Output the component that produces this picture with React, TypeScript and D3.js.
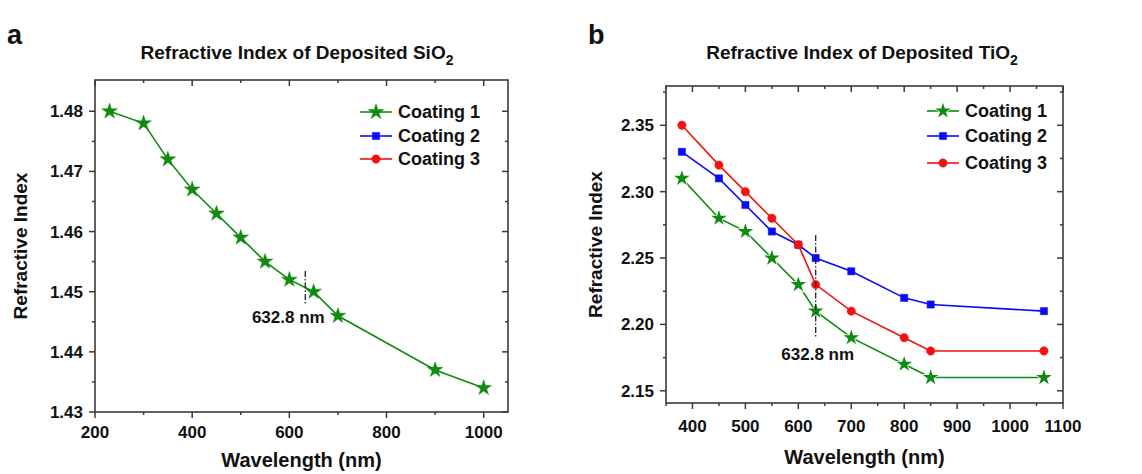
import React from "react";
import * as d3 from "d3";

// ---------- Data ----------
const sio2Wavelengths = [230, 300, 350, 400, 450, 500, 550, 600, 650, 700, 900, 1000];
const sio2Coating1 = [1.48, 1.478, 1.472, 1.467, 1.463, 1.459, 1.455, 1.452, 1.45, 1.446, 1.437, 1.434];

const tio2Wavelengths = [380, 450, 500, 550, 600, 632.8, 700, 800, 850, 1064];
const tio2Coating1 = [2.31, 2.28, 2.27, 2.25, 2.23, 2.21, 2.19, 2.17, 2.16, 2.16];
const tio2Coating2 = [2.33, 2.31, 2.29, 2.27, 2.26, 2.25, 2.24, 2.22, 2.215, 2.21];
const tio2Coating3 = [2.35, 2.32, 2.3, 2.28, 2.26, 2.23, 2.21, 2.19, 2.18, 2.18];

const legendLabels = ["Coating 1", "Coating 2", "Coating 3"];
const sio2XTicks = [200, 400, 600, 800, 1000];
const sio2XMinor = [300, 500, 700, 900];
const sio2YTicks = [1.43, 1.44, 1.45, 1.46, 1.47, 1.48];
const sio2YMinor = [1.435, 1.445, 1.455, 1.465, 1.475];
const tio2XTicks = [400, 500, 600, 700, 800, 900, 1000, 1100];
const tio2XMinor = [350, 450, 550, 650, 750, 850, 950, 1050];
const tio2YTicks = [2.15, 2.2, 2.25, 2.3, 2.35];
const tio2YMinor = [2.175, 2.225, 2.275, 2.325, 2.375];
const markWavelength = 632.8;

const GREEN = "#118a11";
const BLUE = "#0a0af5";
const RED = "#f51010";
const AXIS = "#3a3a3a";
const FONT = "'Liberation Sans', Arial, sans-serif";

type Series = { xs: number[]; ys: number[]; color: string; shape: "star" | "square" | "circle"; halo?: boolean };

const symFor = (shape: string) =>
  shape === "star"
    ? d3.symbol(d3.symbolStar, 75)()
    : shape === "square"
    ? d3.symbol(d3.symbolSquare, 52)()
    : d3.symbol(d3.symbolCircle, 55)();

function Panel(props: {
  letter: string;
  letterX: number;
  titleMain: string;
  titleCx: number;
  left: number;
  top: number;
  right: number;
  bottom: number;
  xDomain: [number, number];
  yDomain: [number, number];
  xTicks: number[];
  xMinor: number[];
  yTicks: number[];
  yMinor: number[];
  series: Series[];
  legendSeries: Series[];
  legendX: number;
  legendYs: number[];
  markY: [number, number];
  markLabelDx: number;
  markLabelY: number;
  yTitleX: number;
  xTickLabelY: number;
  xTitleY: number;
}) {
  const p = props;
  const x = d3.scaleLinear().domain(p.xDomain).range([p.left, p.right]);
  const y = d3.scaleLinear().domain(p.yDomain).range([p.bottom, p.top]);
  const line = d3.line<number>();
  const maj = 6;
  const min = 3;
  const mx = x(markWavelength);
  return (
    <g fontFamily={FONT} fontWeight="bold" fill="#111">
      <text x={p.letterX} y={44} fontSize={27}>{p.letter}</text>
      <text x={p.titleCx} y={59} fontSize={19} textAnchor="middle">
        {p.titleMain}
        <tspan fontSize={14} dy={6}>2</tspan>
      </text>
      {/* frame */}
      <rect x={p.left} y={p.top} width={p.right - p.left} height={p.bottom - p.top} fill="none" stroke={AXIS} strokeWidth={1.6} />
      {/* x ticks */}
      {p.xTicks.map((t) => (
        <g key={"xt" + t}>
          <line x1={x(t)} x2={x(t)} y1={p.bottom} y2={p.bottom + maj} stroke={AXIS} strokeWidth={1.5} />
          <line x1={x(t)} x2={x(t)} y1={p.top} y2={p.top + maj} stroke={AXIS} strokeWidth={1.5} />
          <text x={x(t)} y={p.xTickLabelY} fontSize={17} textAnchor="middle">{t}</text>
        </g>
      ))}
      {p.xMinor.map((t) => (
        <g key={"xm" + t}>
          <line x1={x(t)} x2={x(t)} y1={p.bottom} y2={p.bottom + min} stroke={AXIS} strokeWidth={1.5} />
          <line x1={x(t)} x2={x(t)} y1={p.top} y2={p.top + min} stroke={AXIS} strokeWidth={1.5} />
        </g>
      ))}
      {p.yTicks.map((t) => (
        <g key={"yt" + t}>
          <line x1={p.left - maj} x2={p.left} y1={y(t)} y2={y(t)} stroke={AXIS} strokeWidth={1.5} />
          <line x1={p.right - maj} x2={p.right} y1={y(t)} y2={y(t)} stroke={AXIS} strokeWidth={1.5} />
          <text x={p.left - 12} y={y(t) + 6} fontSize={17} textAnchor="end">{d3.format(".2f")(t)}</text>
        </g>
      ))}
      {p.yMinor.map((t) => (
        <g key={"ym" + t}>
          <line x1={p.left - min} x2={p.left} y1={y(t)} y2={y(t)} stroke={AXIS} strokeWidth={1.5} />
          <line x1={p.right - min} x2={p.right} y1={y(t)} y2={y(t)} stroke={AXIS} strokeWidth={1.5} />
        </g>
      ))}
      {/* axis titles */}
      <text x={(p.left + p.right) / 2} y={p.xTitleY} fontSize={20} textAnchor="middle">Wavelength (nm)</text>
      <text
        transform={`translate(${p.yTitleX},${(p.top + p.bottom) / 2}) rotate(-90)`}
        fontSize={19}
        textAnchor="middle"
      >
        Refractive Index
      </text>
      {/* series */}
      {p.series.map((s, i) => (
        <g key={"s" + i}>
          <path
            d={line(s.xs.map((v, j) => [x(v), y(s.ys[j])]) as any) || ""}
            fill="none"
            stroke={s.color}
            strokeWidth={1.6}
          />
          {s.xs.map((v, j) => (
            <path
              key={j}
              transform={`translate(${x(v)},${y(s.ys[j])})`}
              d={symFor(s.shape) || ""}
              fill={s.color}
              stroke={s.halo ? "#fff" : s.color}
              strokeWidth={s.halo ? 1.5 : 0.5}
              paintOrder="stroke"
            />
          ))}
        </g>
      ))}
      {/* 632.8 nm marker */}
      <line x1={mx} x2={mx} y1={p.markY[0]} y2={p.markY[1]} stroke="#222" strokeWidth={1.3} strokeDasharray="6,2,1.5,2" />
      <text x={mx + p.markLabelDx} y={p.markLabelY} fontSize={17} textAnchor="middle">632.8 nm</text>
      {/* legend */}
      {p.legendSeries.map((s, i) => (
        <g key={"l" + i}>
          <line x1={p.legendX} x2={p.legendX + 32} y1={p.legendYs[i]} y2={p.legendYs[i]} stroke={s.color} strokeWidth={1.6} />
          <path
            transform={`translate(${p.legendX + 16},${p.legendYs[i]})`}
            d={symFor(s.shape) || ""}
            fill={s.color}
            stroke={s.halo ? "#fff" : s.color}
            strokeWidth={s.halo ? 1.5 : 0.5}
            paintOrder="stroke"
          />
          <text x={p.legendX + 38} y={p.legendYs[i] + 6} fontSize={18}>{legendLabels[i]}</text>
        </g>
      ))}
    </g>
  );
}

export default function App() {
  const sio2Series: Series[] = [{ xs: sio2Wavelengths, ys: sio2Coating1, color: GREEN, shape: "star" }];
  const legendA: Series[] = [
    { xs: [], ys: [], color: GREEN, shape: "star" },
    { xs: [], ys: [], color: BLUE, shape: "square" },
    { xs: [], ys: [], color: RED, shape: "circle" },
  ];
  const tio2Series: Series[] = [
    { xs: tio2Wavelengths, ys: tio2Coating1, color: GREEN, shape: "star", halo: true },
    { xs: tio2Wavelengths, ys: tio2Coating2, color: BLUE, shape: "square" },
    { xs: tio2Wavelengths, ys: tio2Coating3, color: RED, shape: "circle" },
  ];
  const legendB: Series[] = [
    { xs: [], ys: [], color: GREEN, shape: "star", halo: true },
    { xs: [], ys: [], color: BLUE, shape: "square" },
    { xs: [], ys: [], color: RED, shape: "circle" },
  ];
  return (
    <svg width={1142} height={474} style={{ position: "absolute", left: 0, top: 0, background: "#fff" }}>
      <rect width={1142} height={474} fill="#fff" />
      <Panel
        letter="a"
        letterX={7}
        titleMain="Refractive Index of Deposited SiO"
        titleCx={297}
        left={95}
        top={80}
        right={508}
        bottom={412}
        xDomain={[200, 1050]}
        yDomain={[1.43, 1.4852]}
        xTicks={sio2XTicks}
        xMinor={sio2XMinor}
        yTicks={sio2YTicks}
        yMinor={sio2YMinor}
        series={sio2Series}
        legendSeries={legendA}
        legendX={360}
        legendYs={[112, 136, 159]}
        markY={[271, 305]}
        markLabelDx={-17}
        markLabelY={323}
        yTitleX={27}
        xTickLabelY={438}
        xTitleY={467}
      />
      <Panel
        letter="b"
        letterX={588}
        titleMain="Refractive Index of Deposited TiO"
        titleCx={862}
        left={666}
        top={86}
        right={1063}
        bottom={403}
        xDomain={[350, 1100]}
        yDomain={[2.1408, 2.3796]}
        xTicks={tio2XTicks}
        xMinor={tio2XMinor}
        yTicks={tio2YTicks}
        yMinor={tio2YMinor}
        series={tio2Series}
        legendSeries={legendB}
        legendX={927}
        legendYs={[111, 136, 163]}
        markY={[235, 338]}
        markLabelDx={2}
        markLabelY={360}
        yTitleX={602}
        xTickLabelY={432}
        xTitleY={464}
      />
    </svg>
  );
}
